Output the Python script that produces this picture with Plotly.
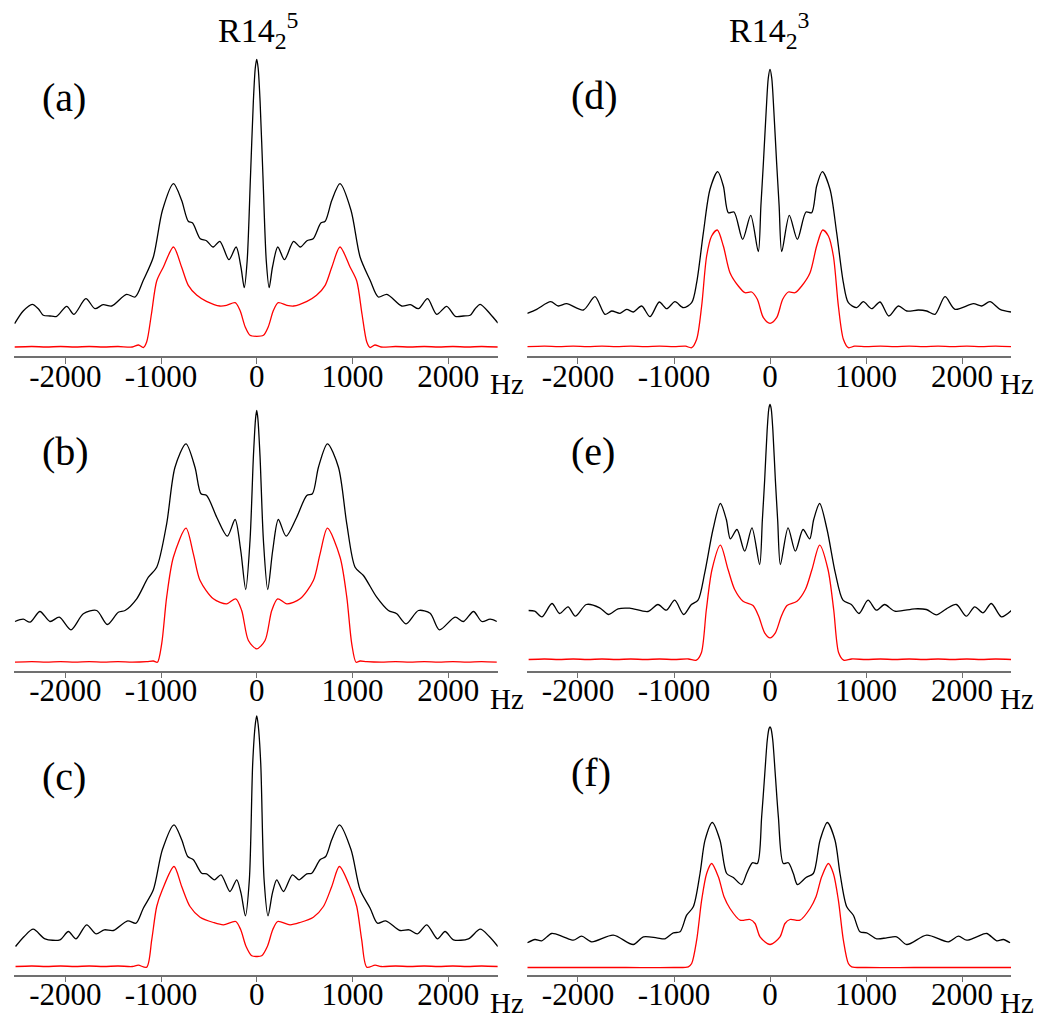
import plotly.graph_objects as go

W, H = 1038, 1019

# ---------------- data (x in Hz, y intensity in arbitrary units) ----------------
a_black_x = [-2530, -2440, -2345, -2280, -2230, -2160, -2090, -1985, -1910, -1785, -1690, -1605, -1515, -1360, -1270, -1185, -1080, -985, -870, -785, -715, -670, -590, -525, -455, -385, -290, -215, -165, -130, -100, -65, -35, -15, 0,
             15, 35, 65, 100, 130, 165, 220, 290, 385, 455, 525, 590, 670, 715, 785, 870, 985, 1080, 1185, 1270, 1360, 1515, 1605, 1690, 1785, 1880, 1985, 2075, 2160, 2230, 2280, 2335, 2440, 2520]
a_black_y = [32.3, 45, 51.7, 47, 40.7, 40, 39.7, 49.7, 41.7, 57.3, 47.3, 51.3, 50, 61.7, 59, 75.7, 99, 145.7, 172.3, 155.7, 134.7, 133, 117.3, 115.3, 109, 114.7, 96.3, 109, 89, 68.3, 95, 180, 255, 288, 296.7,
             288, 255, 180, 95, 68.3, 89, 109, 96.3, 114.7, 109, 115.3, 117.3, 133, 134.7, 155.7, 172.3, 145.7, 99, 75.7, 59, 61.7, 50, 51.3, 47.3, 57.3, 41.7, 49.7, 39.7, 40, 40.7, 47, 51.7, 42, 33]
a_red_x = [-2530, -2350, -2200, -2050, -1900, -1750, -1600, -1450, -1300, -1235, -1185, -1150, -1100, -1045, -975, -870, -785, -715, -625, -525, -385, -315, -225, -175, -120, -70, 0,
           70, 120, 175, 225, 315, 385, 525, 625, 715, 785, 870, 975, 1045, 1100, 1150, 1185, 1235, 1300, 1450, 1600, 1750, 1900, 2050, 2200, 2350, 2520]
a_red_y = [9, 9.5, 9, 9.5, 9, 9.5, 9, 9.5, 9, 11, 8.5, 14, 42, 75, 89, 109, 89, 70.7, 60.7, 54.7, 50, 50.7, 53.3, 45.7, 29, 20.7, 19.7,
           20.7, 29, 45.7, 53.3, 50.7, 50, 54.7, 60.7, 70.7, 89, 109, 89, 75, 42, 14, 8.5, 11, 9, 9.5, 9, 9.5, 9, 9.5, 9, 9.5, 9]

b_black_x = [-2526, -2439, -2369, -2265, -2160, -2063, -1941, -1812, -1672, -1561, -1446, -1376, -1254, -1132, -1045, -941, -854, -739, -645, -582, -523, -418, -307, -226, -167, -115, -70, -35, -12, 0,
             12, 35, 70, 115, 167, 226, 307, 418, 523, 582, 645, 739, 854, 941, 1028, 1115, 1254, 1376, 1463, 1561, 1690, 1812, 1909, 2073, 2160, 2265, 2352, 2439, 2508]
b_black_y = [49, 51.3, 48.3, 59, 49, 53.3, 40.7, 56.7, 60, 46, 58.3, 60, 71.7, 93.3, 103.3, 146.7, 203.3, 226.7, 203.3, 176.7, 175, 153.3, 134.3, 151, 120, 81, 130, 213.3, 252, 260,
             252, 213.3, 130, 81, 120, 151, 134.3, 153.3, 175, 176.7, 203.3, 226.7, 203.3, 146.7, 103.3, 95, 73.3, 60, 56.7, 46.7, 60, 57.3, 40.7, 53.3, 49, 59, 49, 51.3, 49]
b_red_x = [-2526, -2350, -2200, -2050, -1900, -1750, -1600, -1450, -1300, -1150, -1080, -1038, -993, -941, -871, -739, -662, -592, -453, -314, -219, -157, -87, 0,
           87, 157, 219, 314, 453, 592, 662, 739, 871, 941, 993, 1038, 1080, 1150, 1300, 1450, 1600, 1750, 1900, 2050, 2200, 2350, 2508]
b_red_y = [8.3, 8.8, 8.3, 8.8, 8.3, 8.8, 8.3, 8.8, 8.3, 8.8, 9.5, 8.3, 26.7, 73.3, 113.3, 142.3, 116.7, 90, 71.7, 66.7, 71.7, 60, 30, 21.7,
           30, 60, 71.7, 66.7, 71.7, 90, 116.7, 142.3, 113.3, 73.3, 26.7, 8.3, 9.5, 8.8, 8.3, 8.8, 8.3, 8.8, 8.3, 8.8, 8.3, 8.8, 8.3]

c_black_x = [-2520, -2430, -2335, -2212, -2056, -1968, -1888, -1777, -1679, -1592, -1498, -1348, -1261, -1185, -1080, -986, -864, -784, -721, -662, -575, -523, -442, -373, -279, -209, -164, -118, -77, -42, -15, 0,
             15, 42, 77, 118, 164, 209, 279, 373, 442, 523, 575, 662, 721, 784, 864, 986, 1080, 1185, 1261, 1348, 1498, 1592, 1679, 1777, 1888, 1968, 2056, 2212, 2335, 2430, 2520]
c_black_y = [28, 38, 45.3, 35.7, 34.7, 43, 35.7, 49.7, 40.7, 44.7, 44, 53.7, 51.3, 66.3, 84.7, 124.7, 149.7, 134.7, 118, 114.7, 101.3, 100.7, 94.7, 99.7, 83, 94.7, 81.3, 58.7, 94.7, 211, 250, 258.7,
             250, 211, 94.7, 58.7, 81.3, 94.7, 83, 99.7, 94.7, 100.7, 101.3, 114.7, 118, 134.7, 149.7, 124.7, 84.7, 66.3, 51.3, 53.7, 44, 44.7, 40.7, 49.7, 35.7, 43, 34.7, 35.7, 45.3, 38, 28]
c_red_x = [-2520, -2350, -2200, -2050, -1900, -1750, -1600, -1450, -1300, -1237, -1150, -1097, -1045, -986, -864, -784, -697, -592, -453, -348, -219, -167, -111, -52, 0,
           52, 111, 167, 219, 348, 453, 592, 697, 784, 864, 986, 1045, 1097, 1150, 1237, 1300, 1450, 1600, 1750, 1900, 2050, 2200, 2350, 2520]
c_red_y = [8, 8.5, 8, 8.5, 8, 8.5, 8, 8.5, 8, 9.3, 7.3, 34.7, 68, 84.7, 108, 88, 68, 57.3, 52, 49.7, 53, 44.7, 28, 18.7, 18,
           18.7, 28, 44.7, 53, 49.7, 52, 57.3, 68, 88, 108, 84.7, 68, 34.7, 7.3, 9.3, 8, 8.5, 8, 8.5, 8, 8.5, 8, 8.5, 8]

d_black_x = [-2528, -2430, -2285, -2205, -2118, -1944, -1823, -1719, -1649, -1562, -1493, -1424, -1337, -1250, -1153, -1076, -990, -903, -816, -764, -694, -625, -545, -486, -434, -375, -285, -201, -122, -95, -69, -40, -18, 0,
             18, 40, 69, 95, 122, 201, 285, 375, 434, 486, 545, 625, 694, 764, 816, 903, 972, 1059, 1146, 1237, 1337, 1424, 1545, 1632, 1719, 1823, 1927, 2118, 2205, 2291, 2396, 2510]
d_black_y = [42.7, 46.7, 54.3, 50, 52.3, 46, 59.3, 41.7, 45, 42.7, 46.7, 44, 50, 39.3, 54, 47.3, 54.3, 48.3, 53.3, 73.3, 123.3, 166.7, 184.3, 170, 143.3, 144, 116.7, 140.7, 104.3, 150, 193, 245, 278, 286.7,
             278, 245, 193, 150, 104.3, 140.7, 116.7, 144, 143.3, 170, 184.3, 166.7, 123.3, 73.3, 53.3, 48.3, 54.3, 47.3, 54, 40, 50, 45, 46, 45, 41.7, 59.3, 46.7, 52.3, 50, 54.3, 46.7, 44]
d_red_x = [-2528, -2350, -2200, -2050, -1900, -1750, -1600, -1450, -1300, -1150, -1000, -880, -816, -764, -712, -660, -608, -549, -486, -417, -330, -260, -191, -132, -69, 0,
           69, 132, 191, 260, 330, 417, 486, 549, 608, 660, 712, 764, 816, 880, 1000, 1150, 1300, 1450, 1600, 1750, 1900, 2050, 2200, 2350, 2510]
d_red_y = [9.3, 9.8, 9.3, 9.8, 9.3, 9.8, 9.3, 9.8, 9.3, 9.8, 9.3, 9.8, 8.3, 16.7, 50, 100, 120, 126, 110, 83.3, 70, 63.3, 64, 56.7, 38.3, 32.7,
           38.3, 56.7, 64, 63.3, 70, 83.3, 110, 126, 120, 100, 50, 16.7, 8.3, 9.8, 9.3, 9.8, 9.3, 9.8, 9.3, 9.8, 9.3, 9.8, 9.3, 9.8, 9.3]

e_black_x = [-2514, -2451, -2375, -2271, -2191, -2104, -2028, -1913, -1774, -1680, -1583, -1462, -1271, -1167, -1080, -993, -899, -819, -750, -680, -594, -517, -455, -413, -344, -264, -188, -108, -80, -56, -30, -12, 0,
             12, 30, 56, 80, 108, 188, 264, 344, 413, 455, 517, 594, 680, 760, 847, 927, 1021, 1108, 1194, 1299, 1507, 1628, 1733, 1837, 1941, 2045, 2132, 2219, 2305, 2410, 2514]
e_black_y = [60, 59.3, 53.7, 67, 57, 63.7, 54.3, 66, 62.7, 56, 61.7, 62.3, 59, 66, 60.3, 70.3, 56, 66, 70.3, 97.7, 141, 167, 151, 131.7, 141, 119.3, 142.7, 106, 150, 190, 240, 262, 266,
             262, 240, 190, 150, 106, 142.7, 119.3, 141, 131.7, 151, 167, 141, 97.7, 70.3, 66, 57, 70.3, 60.3, 66, 59.3, 61.7, 61, 55.7, 61.7, 66, 54.3, 63.7, 57.7, 67, 53.7, 60]
e_red_x = [-2514, -2350, -2200, -2050, -1900, -1750, -1600, -1450, -1300, -1150, -1000, -850, -767, -715, -663, -604, -517, -437, -368, -281, -177, -118, -56, 0,
           56, 118, 177, 281, 368, 437, 517, 604, 663, 715, 767, 850, 1000, 1150, 1300, 1450, 1600, 1750, 1900, 2050, 2200, 2350, 2514]
e_red_y = [11, 11.5, 11, 11.5, 11, 11.5, 11, 11.5, 11, 11.5, 11, 11.5, 10.3, 17.7, 61, 101, 125.3, 101, 81, 69.3, 65, 54.3, 37.7, 32.7,
           37.7, 54.3, 65, 69.3, 81, 101, 125.3, 101, 61, 17.7, 10.3, 11.5, 11, 11.5, 11, 11.5, 11, 11.5, 11, 11.5, 11, 11.5, 11]

f_black_x = [-2528, -2448, -2378, -2274, -2153, -2049, -1962, -1858, -1632, -1424, -1319, -1180, -1094, -1007, -937, -868, -799, -729, -677, -601, -521, -451, -382, -295, -243, -184, -132, -87, -55, -28, -10, 0,
             10, 28, 55, 87, 139, 191, 243, 285, 375, 451, 521, 597, 677, 729, 799, 868, 937, 1007, 1111, 1215, 1319, 1424, 1632, 1858, 1962, 2049, 2153, 2257, 2361, 2430, 2500]
f_black_y = [31.7, 35, 33.7, 41, 37.7, 34.3, 38.3, 32.7, 39.3, 30, 37.7, 36.7, 35.7, 41.7, 42.7, 59.3, 67.7, 101, 134.3, 152, 134.3, 101, 97, 90, 101, 111.7, 111, 157.7, 200, 235, 246, 247.7,
             246, 235, 200, 157.7, 111, 111.7, 101, 90, 97, 101, 134.3, 152, 134.3, 101, 67.7, 59.3, 42.7, 41.7, 35.7, 36.7, 37.7, 30, 39.3, 32.7, 38.3, 34.3, 37.7, 41, 33.7, 35, 31.7]
f_red_x = [-2528, -2000, -1500, -1000, -851, -816, -764, -712, -660, -608, -538, -479, -417, -312, -208, -156, -104, 0,
           104, 156, 208, 312, 417, 479, 538, 608, 660, 712, 764, 816, 851, 1000, 1500, 2000, 2510]
f_red_y = [7, 7, 7, 7, 7.7, 11, 34.3, 74.3, 101, 111, 97.7, 77.7, 66, 54.3, 55, 51, 37.7, 30,
           37.7, 51, 55, 54.3, 66, 77.7, 97.7, 111, 101, 74.3, 34.3, 11, 7.7, 7, 7, 7, 7]

panel_labels = ["(a)", "(b)", "(c)", "(d)", "(e)", "(f)"]
column_titles = ["R14<sub>2</sub><sup>5</sup>", "R14<sub>2</sub><sup>3</sup>"]
tick_vals = [-2000, -1000, 0, 1000, 2000]
tick_text = ["-2000", "-1000", "0", "1000", "2000"]
unit_label = "Hz"

panels = [
    (a_black_x, a_black_y, a_red_x, a_red_y),
    (b_black_x, b_black_y, b_red_x, b_red_y),
    (c_black_x, c_black_y, c_red_x, c_red_y),
    (d_black_x, d_black_y, d_red_x, d_red_y),
    (e_black_x, e_black_y, e_red_x, e_red_y),
    (f_black_x, f_black_y, f_red_x, f_red_y),
]

# ---------------- layout geometry (pixels) ----------------
col_px = [(14.3, 497.7), (527.3, 1011.0)]
col_range = [(-2533, 2518), (-2528, 2510)]
row_axis_px = [356.0, 670.5, 974.5]
panel_h = 300
label_pos = [(64, 97), (65, 451), (64, 776), (594, 95), (593, 451), (591, 772)]

FONT = "Liberation Serif, Times New Roman, serif"

fig = go.Figure()
layout = dict(width=W, height=H, margin=dict(l=0, r=0, t=0, b=0),
              paper_bgcolor="white", plot_bgcolor="rgba(0,0,0,0)", showlegend=False)
annotations = []

for i, (bx, by, rx, ry) in enumerate(panels):
    col = i // 3
    row = i % 3
    k = i + 1
    xa = "x" if k == 1 else f"x{k}"
    ya = "y" if k == 1 else f"y{k}"
    fig.add_trace(go.Scatter(x=bx, y=by, mode="lines", line=dict(color="black", width=1.3, shape="spline", smoothing=0.8),
                             xaxis=xa, yaxis=ya, hoverinfo="skip"))
    fig.add_trace(go.Scatter(x=rx, y=ry, mode="lines", line=dict(color="#ff0000", width=1.3, shape="spline", smoothing=0.8),
                             xaxis=xa, yaxis=ya, hoverinfo="skip"))
    x0, x1 = col_px[col]
    yb = row_axis_px[row]
    yt = yb - panel_h
    layout[f"xaxis{'' if k == 1 else k}"] = dict(
        domain=[x0 / W, x1 / W], range=list(col_range[col]), anchor=ya,
        showline=True, linecolor="#707070", linewidth=1.5,
        ticks="outside", ticklen=6, tickcolor="#707070", tickwidth=1.3,
        tickvals=tick_vals, ticktext=tick_text, ticklabelstandoff=-14,
        tickfont=dict(family=FONT, size=31, color="black"),
        showgrid=False, zeroline=False, fixedrange=True)
    layout[f"yaxis{'' if k == 1 else k}"] = dict(
        domain=[1 - yb / H, 1 - yt / H], range=[0, panel_h], anchor=xa,
        visible=False, showgrid=False, zeroline=False, fixedrange=True)
    # panel label
    lx, ly = label_pos[i]
    annotations.append(dict(text=panel_labels[i], x=lx / W, y=1 - ly / H, xref="paper", yref="paper",
                            xanchor="center", yanchor="middle", showarrow=False,
                            font=dict(family=FONT, size=40, color="black")))
    # unit label
    hx = 488 if col == 0 else 998
    annotations.append(dict(text=unit_label, x=hx / W, y=1 - (yb + 28) / H, xref="paper", yref="paper",
                            xanchor="left", yanchor="middle", showarrow=False,
                            font=dict(family=FONT, size=29, color="black")))

for c, cx in enumerate([258, 769]):
    annotations.append(dict(text=column_titles[c], x=cx / W, y=1 - 30 / H, xref="paper", yref="paper",
                            xanchor="center", yanchor="middle", showarrow=False,
                            font=dict(family=FONT, size=34, color="black")))

layout["annotations"] = annotations
fig.update_layout(**layout)
fig.write_html("out.html", config={"displayModeBar": False},
               post_script="document.body.style.margin='0px';document.body.style.overflow='hidden';")
